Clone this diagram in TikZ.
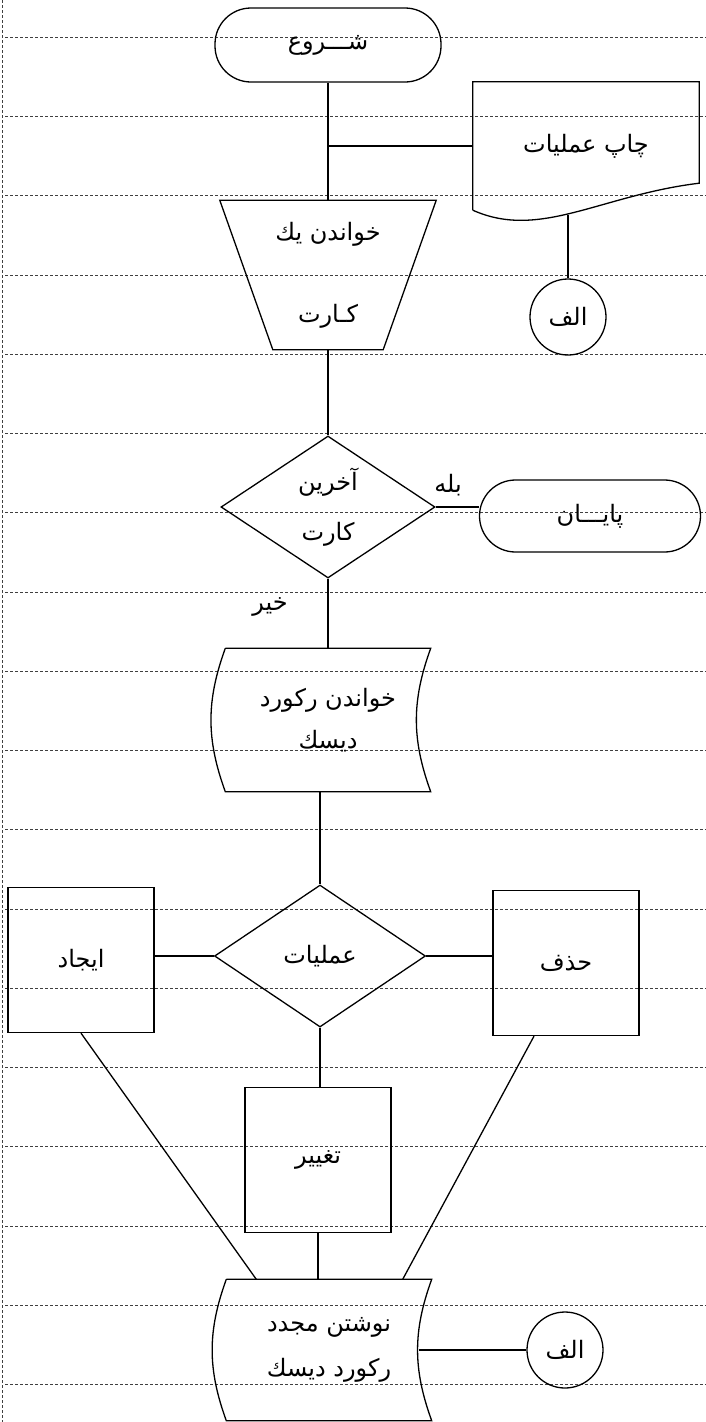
\documentclass[tikz,border=0pt]{standalone}
\usepackage{fontspec}
\newfontfamily\farsi[Script=Arabic]{DejaVu Sans}
\TeXXeTstate=1
\usetikzlibrary{shapes.geometric}

\begin{document}
\begin{tikzpicture}[x=1pt,y=-1pt]
\tikzset{ligne/.style={draw, dash pattern=on 3pt off 2pt, line width=0.5pt, black!75},
  trait/.style={line width=1.3pt},
  texte/.style={font=\farsi\fontsize{24}{28}\selectfont, align=center, inner sep=0pt},
  terminal/.style={texte, draw, trait, rectangle, rounded corners=36pt, minimum width=226pt, minimum height=74pt},
  losange/.style={texte, draw, trait, diamond, aspect=1.5, minimum width=214pt, minimum height=142pt},
  boite/.style={texte, draw, trait, rectangle, minimum width=146pt, minimum height=145pt},
  renvoi/.style={texte, draw, trait, circle, minimum size=76pt},
  forme/.style={texte, minimum width=205pt, minimum height=143pt}}
\useasboundingbox (0,0) rectangle (706,1422);
\fill[white] (0,0) rectangle (706,1422);
\foreach \k in {0,...,17} \draw[ligne] (5,37+79.25*\k) -- (706,37+79.25*\k);
\draw[ligne] (2,0) -- (2,1422);
\node[terminal] (debut) at (328,45) {\beginR شـــروع\endR};
\node[forme, minimum width=226pt, minimum height=128pt] (impr) at (586,146) {\beginR چاپ عملیات\endR};
\node[renvoi] (A1) at (568,317) {\beginR الف\endR};
\node[forme, minimum width=216pt, minimum height=149pt] (carte) at (328,275) {\beginR خواندن یك\endR\\[54pt]\beginR کـارت\endR};
\node[losange] (D1) at (328,507) {\beginR آخرین\endR\\[22pt]\beginR کارت\endR};
\node[terminal, minimum width=221pt, minimum height=72pt] (fin) at (590,516) {\beginR پایـــان\endR};
\node[texte] (oui) at (448,485) {\beginR بله\endR};
\node[texte] (non) at (270,607) {\beginR خیر\endR};
\node[forme] (lire) at (328,720) {\beginR خواندن رکورد\endR\\[14pt]\beginR دیسك\endR};
\node[losange, minimum width=211pt] (D2) at (320,956) {\beginR عملیات\endR};
\node[boite] (creer) at (81,960) {\beginR ایجاد\endR};
\node[boite] (suppr) at (566,963) {\beginR حذف\endR};
\node[boite] (modif) at (318,1160) {\beginR تغییر\endR};
\node[forme, minimum height=141pt] (ecrire) at (329,1350) {\beginR نوشتن مجدد\endR\\[17pt]\beginR رکورد دیسك\endR};
\node[renvoi] (A2) at (565,1350) {\beginR الف\endR};
\draw[trait] (carte.north west) -- (carte.north east) -- ([xshift=-53pt]carte.south east) -- ([xshift=53pt]carte.south west) -- cycle;
\draw[trait] (impr.south west) -- (impr.north west) -- (impr.north east) -- ([yshift=27pt]impr.south east) .. controls ([xshift=-99pt,yshift=15pt]impr.south east) and ([xshift=67pt,yshift=-30pt]impr.south west) .. (impr.south west);
\foreach \f in {lire,ecrire}
  \draw[trait] (\f.north west) -- (\f.north east) to[bend right=20] (\f.south east) -- (\f.south west) to[bend left=20] (\f.north west);
\coordinate (j) at (328,146);
\coordinate (imprbas) at (568,215);
\draw[trait] (debut) -- (carte);
\draw[trait] (j) -- (impr.west);
\draw[trait] (imprbas) -- (A1);
\draw[trait] (carte) -- (D1);
\draw[trait] (D1.east) -- (D1.east -| fin.west);
\draw[trait] (D1) -- (lire);
\draw[trait] (lire.south -| D2.north) -- (D2.north);
\draw[trait] (D2.west) -- (D2.west -| creer.east);
\draw[trait] (D2.east) -- (D2.east -| suppr.west);
\draw[trait] (D2.south) -- (D2.south |- modif.north);
\draw[trait] (modif.south) -- (modif.south |- ecrire.north);
\draw[trait] (creer.south) -- ([xshift=30pt]ecrire.north west);
\draw[trait] ([xshift=-32pt]suppr.south) -- ([xshift=-29pt]ecrire.north east);
\draw[trait] ([xshift=-13pt]ecrire.east) -- (A2);
\end{tikzpicture}
\end{document}
